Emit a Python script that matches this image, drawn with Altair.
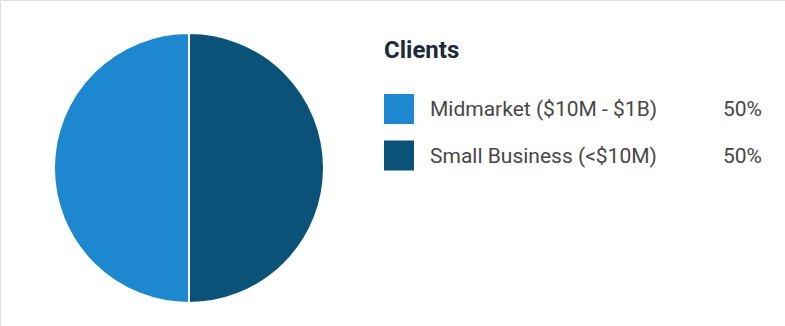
import altair as alt
import pandas as pd

categories = ["Midmarket ($10M - $1B)", "Small Business (<$10M)"]
shares = [50, 50]
pct_labels = ["50%", "50%"]
legend_title = ["Clients"]
colors = ["#1d87cf", "#0b5279"]

df = pd.DataFrame({
    "category": categories,
    "share": shares,
    "pct": pct_labels,
    "order": [2, 1],
})

color_scale = alt.Scale(domain=categories, range=colors)
row_scale = alt.Scale(type="point", domain=categories, range=[109, 155.5], padding=0)

pie = alt.Chart(df).mark_arc(outerRadius=135, stroke="white", strokeWidth=2).encode(
    theta=alt.Theta("share:Q", stack=True),
    color=alt.Color("category:N", scale=color_scale, legend=None),
    order=alt.Order("order:Q"),
    x=alt.value(189),
    y=alt.value(168),
)

swatches = alt.Chart(df).mark_point(shape="square", filled=True, size=900, opacity=1).encode(
    x=alt.value(399),
    y=alt.Y("category:N", scale=row_scale, axis=None),
    color=alt.Color("category:N", scale=color_scale, legend=None),
)

labels = alt.Chart(df).mark_text(
    align="left", baseline="middle", font="Roboto", fontSize=21, color="#474747", dy=1
).encode(
    x=alt.value(430),
    y=alt.Y("category:N", scale=row_scale, axis=None),
    text="category:N",
)

pcts = alt.Chart(df).mark_text(
    align="right", baseline="middle", font="Roboto", fontSize=21, color="#474747", dy=1
).encode(
    x=alt.value(762),
    y=alt.Y("category:N", scale=row_scale, axis=None),
    text="pct:N",
)

title = alt.Chart(pd.DataFrame({"t": legend_title})).mark_text(
    align="left", baseline="middle", font="Roboto", fontSize=24, fontWeight="bold", color="#1b2a38"
).encode(
    x=alt.value(384),
    y=alt.value(51),
    text="t:N",
)

chart = alt.layer(pie, swatches, labels, pcts, title).properties(
    width=785, height=326,
    autosize=alt.AutoSizeParams(type="none"),
    padding=0,
).configure_view(stroke=None).configure(background="white")

chart.save("out.html", embed_options={"renderer": "svg", "actions": False})
